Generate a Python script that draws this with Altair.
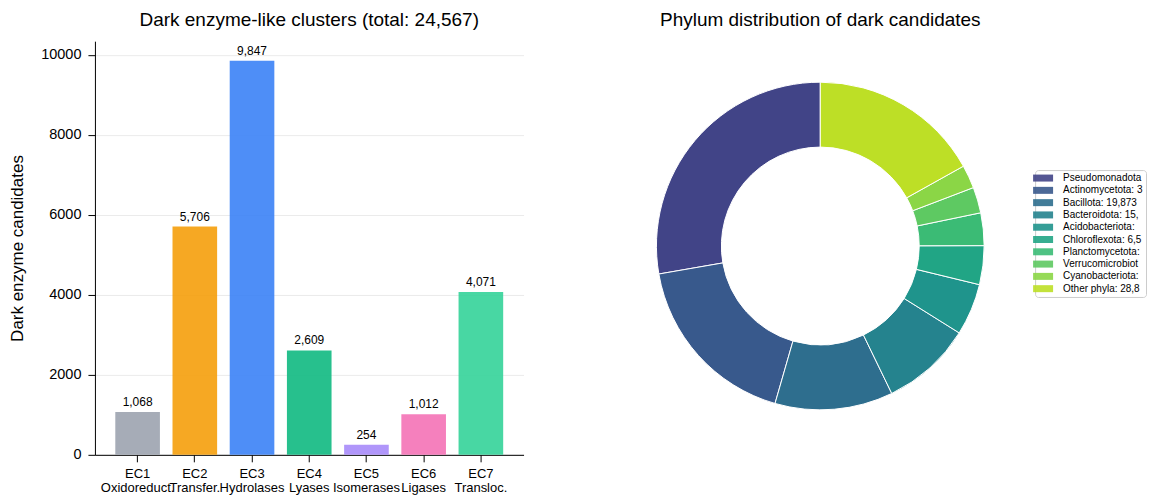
import altair as alt
import pandas as pd

# ---- data ----
ec_codes = ["EC1", "EC2", "EC3", "EC4", "EC5", "EC6", "EC7"]
ec_names = ["Oxidoreduct.", "Transfer.", "Hydrolases", "Lyases", "Isomerases", "Ligases", "Transloc."]
ec_counts = [1068, 5706, 9847, 2609, 254, 1012, 4071]
ec_colors = ["#9CA3AF", "#F59E0B", "#3B82F6", "#10B981", "#A78BFA", "#F472B6", "#34D399"]

phyla = ["Pseudomonadota", "Actinomycetota", "Bacillota", "Bacteroidota", "Acidobacteriota",
         "Chloroflexota", "Planctomycetota", "Verrucomicrobiota", "Cyanobacteriota", "Other phyla"]
phylum_counts = [47360, 30412, 19873, 15234, 8712, 6541, 5487, 4356, 3921, 28863]
phylum_colors = ["#414487", "#38598c", "#2e6e8e", "#25838e", "#1f948c",
                 "#21a585", "#3bbb75", "#5ec962", "#8bd646", "#bddf26"]

FONT = "Liberation Sans"

bar_df = pd.DataFrame({
    "cat": [f"{c}\n{n}" for c, n in zip(ec_codes, ec_names)],
    "count": ec_counts,
    "color": ec_colors,
})

pie_labels = [f"{p}: {v:,}" for p, v in zip(phyla, phylum_counts)]
pie_df = pd.DataFrame({
    "label": pie_labels,
    "count": phylum_counts,
    "idx": list(range(len(phyla))),
})

# ---- left: bar chart ----
xenc = alt.X(
    "cat:N", sort=None,
    scale=alt.Scale(paddingInner=0.22, paddingOuter=0.356),
    axis=alt.Axis(title=None, labelAngle=0, labelExpr="split(datum.label, '\\n')",
                  tickSize=7, domainColor="black", tickColor="black", labelColor="black",
                  labelFontSize=13, labelPadding=6, labelLineHeight=13.5),
)
yscale = alt.Scale(domain=[0, 10339], nice=False)
base = alt.Chart(bar_df).encode(x=xenc)
bars = base.mark_bar(opacity=0.9).encode(
    y=alt.Y("count:Q", scale=yscale,
            axis=alt.Axis(values=[0, 2000, 4000, 6000, 8000, 10000], format="d",
                          title="Dark enzyme candidates",
                          grid=True, gridColor="#ebebeb", gridWidth=1, domainColor="black",
                          tickColor="black", tickSize=7, labelColor="black", labelFontSize=14.5,
                          labelPadding=7, titleFontSize=17, titleFontWeight="normal",
                          titleColor="black", titlePadding=14)),
    color=alt.Color("color:N", scale=None),
)
texts = base.mark_text(baseline="bottom", dy=-3, fontSize=12, color="black").encode(
    y=alt.Y("count:Q", scale=yscale),
    text=alt.Text("count:Q", format=","),
)
left = alt.layer(bars, texts).properties(
    width=429, height=414,
    title=alt.TitleParams("Dark enzyme-like clusters (total: 24,567)", fontSize=19,
                          fontWeight="normal", offset=11, color="black"),
)

# ---- right: donut ----
donut = alt.Chart(pie_df).mark_arc(innerRadius=99, outerRadius=164, stroke="white", strokeWidth=1).encode(
    theta=alt.Theta("count:Q", stack=True),
    color=alt.Color("label:N",
                    scale=alt.Scale(domain=pie_labels, range=phylum_colors),
                    sort=pie_labels,
                    legend=alt.Legend(title=None, orient="none", legendX=941, legendY=129,
                                      labelFontSize=10, labelColor="black",
                                      symbolType="M-2,-0.7L2,-0.7L2,0.7L-2,0.7Z",
                                      symbolSize=100, symbolStrokeWidth=0, symbolOpacity=1,
                                      strokeColor="#cccccc", padding=3, cornerRadius=3,
                                      rowPadding=2.3, labelOffset=15, fillColor="white",
                                      labelLimit=80)),
    order=alt.Order("idx:Q", sort="descending"),
).properties(
    width=330, height=410,
    title=alt.TitleParams("Phylum distribution of dark candidates", fontSize=19,
                          fontWeight="normal", offset=11, color="black"),
)

chart = alt.hconcat(left, donut, spacing=131).properties(
    padding={"left": 0, "top": 3, "right": 0, "bottom": 0}
).configure(font=FONT, style={"guide-label": {"ellipsis": "\u200b"}}).configure_view(stroke=None)

chart.save("out.html", embed_options={"renderer": "svg", "actions": False})
